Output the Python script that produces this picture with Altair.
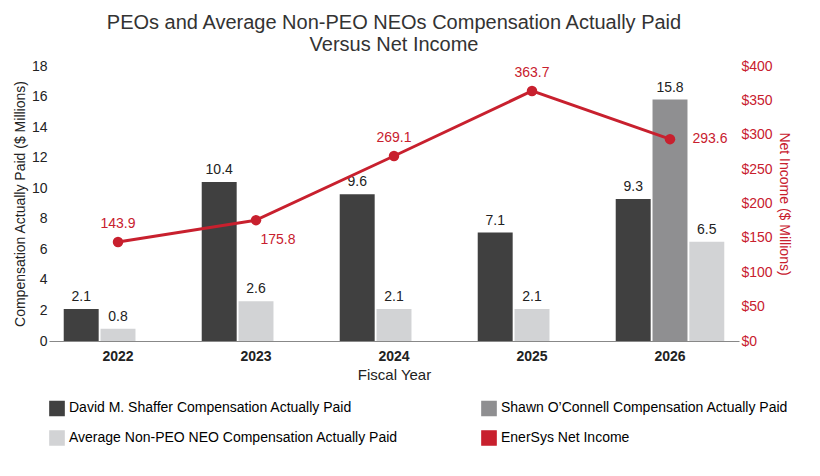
import altair as alt
import pandas as pd

years = ["2022", "2023", "2024", "2025", "2026"]
shaffer = [2.1, 10.4, 9.6, 7.1, 9.3]
oconnell = [None, None, None, None, 15.8]
nonpeo = [0.8, 2.6, 2.1, 2.1, 6.5]
net_income = [143.9, 175.8, 269.1, 363.7, 293.6]

S1 = "David M. Shaffer Compensation Actually Paid"
S2 = "Shawn O’Connell Compensation Actually Paid"
S3 = "Average Non-PEO NEO Compensation Actually Paid"
S4 = "EnerSys Net Income"

rows = []
for i, y in enumerate(years):
    slot = 0
    for name, vals in [(S1, shaffer), (S2, oconnell), (S3, nonpeo)]:
        v = vals[i]
        if v is None:
            continue
        rows.append({"year": y, "series": name, "value": v, "slot": slot})
        slot += 1
bars_df = pd.DataFrame(rows)
line_df = pd.DataFrame({"year": years, "ni": net_income, "series": S4,
                        "pos": ["up", "down", "up", "up", "right"]})

color = alt.Scale(domain=[S1, S2, S3, S4],
                  range=["#404040", "#8f8f91", "#d2d3d5", "#c8202e"])

x = alt.X("year:N", title="Fiscal Year", scale=alt.Scale(paddingInner=0.0, paddingOuter=0.0),
          axis=alt.Axis(labelAngle=0, labelFontWeight="bold", labelFontSize=14, titleFontSize=15,
                        titleFontWeight="normal", ticks=False, domainColor="#888", labelColor="#222",
                        titleColor="#222", labelPadding=8))
xo = alt.XOffset("slot:O", scale=alt.Scale(domain=[0, 1, 2], paddingInner=0.05, paddingOuter=0.4))

yl_axis = alt.Axis(values=list(range(0, 19, 2)), grid=False, domain=False, ticks=False,
                   labelFontSize=14, titleFontSize=14, titleFontWeight="normal",
                   labelColor="#222", titleColor="#222", labelOverlap=False)
yl = alt.Y("value:Q", title="Compensation Actually Paid ($ Millions)",
           scale=alt.Scale(domain=[0, 18], nice=False), axis=yl_axis)

bars = alt.Chart(bars_df).mark_bar().encode(
    x=x, xOffset=xo, y=yl,
    color=alt.Color("series:N", scale=color, title=None,
                    legend=alt.Legend(orient="bottom", columns=2, labelFontSize=14, symbolType="square",
                                      symbolSize=200, columnPadding=80, labelLimit=400, rowPadding=8)),
)
bar_text = alt.Chart(bars_df).mark_text(dy=-12, fontSize=14, color="#222").encode(
    x=x, xOffset=xo, y=yl, text=alt.Text("value:Q", format=".1f"))

left = alt.layer(bars, bar_text)

yr_axis = alt.Axis(orient="right", values=list(range(0, 401, 50)), format="$,d", grid=False,
                   domain=False, ticks=False, labelFontSize=14, titleFontSize=14,
                   titleFontWeight="normal", labelColor="#c8202e", titleColor="#c8202e",
                   labelOverlap=False)
yr = alt.Y("ni:Q", title="Net Income ($ Millions)", scale=alt.Scale(domain=[0, 400], nice=False),
           axis=yr_axis)
line = alt.Chart(line_df).mark_line(strokeWidth=3, point=alt.OverlayMarkDef(size=110, filled=True, opacity=1)).encode(
    x=x, y=yr, color=alt.Color("series:N", scale=color, title=None))
t_up = alt.Chart(line_df).transform_filter("datum.pos=='up'").mark_text(dy=-18, fontSize=14, color="#c8202e").encode(
    x=x, y=yr, text=alt.Text("ni:Q", format=".1f"))
t_dn = alt.Chart(line_df).transform_filter("datum.pos=='down'").mark_text(dy=20, dx=22, fontSize=14, color="#c8202e").encode(
    x=x, y=yr, text=alt.Text("ni:Q", format=".1f"))
t_rt = alt.Chart(line_df).transform_filter("datum.pos=='right'").mark_text(dx=40, fontSize=14, color="#c8202e").encode(
    x=x, y=yr, text=alt.Text("ni:Q", format=".1f"))
right = alt.layer(line, t_up, t_dn, t_rt)

chart = alt.layer(left, right).resolve_scale(y="independent").properties(
    width=690, height=275,
    title=alt.TitleParams(["PEOs and Average Non-PEO NEOs Compensation Actually Paid", "Versus Net Income"],
                          fontSize=20, fontWeight="normal", color="#333", anchor="middle"),
).configure(font="Arial").configure_view(stroke=None)

chart.save("out.html", embed_options={"renderer": "svg", "actions": False})
